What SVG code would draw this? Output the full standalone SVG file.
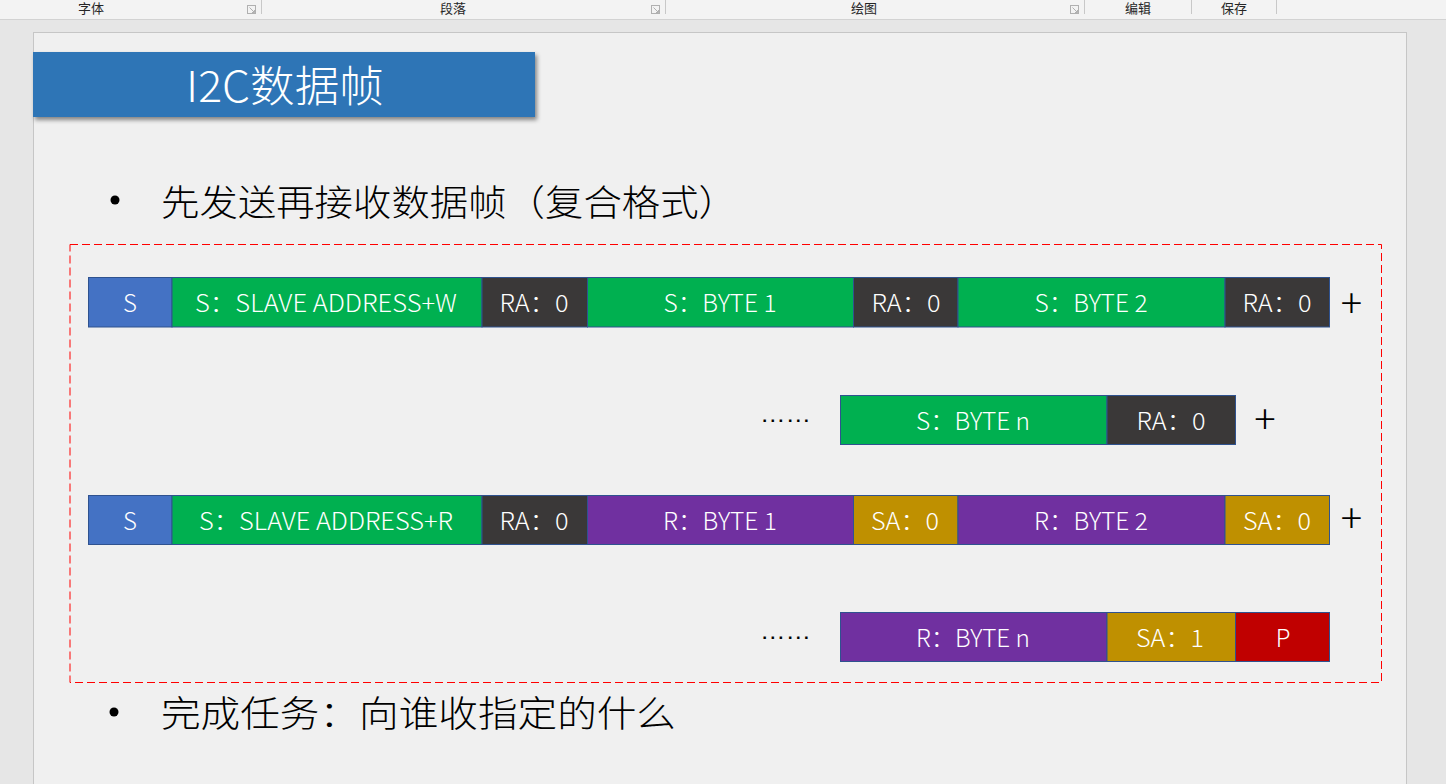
<svg xmlns="http://www.w3.org/2000/svg" width="1446" height="784" viewBox="0 0 1446 784">
<defs>
<style>
.tb{font-family:"Noto Sans CJK SC","Noto Sans",sans-serif;font-size:13px;fill:#262626;text-anchor:middle}
.seg{stroke:#2f528f;stroke-width:1}
.lbl{font-family:"Noto Sans CJK SC","Noto Sans",sans-serif;font-size:24px;font-weight:300;fill:#ffffff;text-anchor:middle}
.blt{font-family:"Noto Sans CJK SC",sans-serif;font-size:36px;font-weight:300;fill:#000000}
.plus{font-family:"Noto Sans CJK SC",sans-serif;font-size:40px;font-weight:300;fill:#000000;text-anchor:middle}
.dots{font-family:"Liberation Sans",sans-serif;font-size:24px;fill:#000000}
.sep{stroke:#c8c8c8;stroke-width:1}
.ico{fill:none;stroke:#b0b0b0;stroke-width:1}
</style>
<filter id="sh" x="-5%" y="-20%" width="112%" height="150%">
<feDropShadow dx="2" dy="3" stdDeviation="2" flood-color="#000" flood-opacity="0.45"/>
</filter>
</defs>
<rect x="0" y="0" width="1446" height="784" fill="#e6e6e6"/>
<g id="toolbar">
<rect x="0" y="0" width="1446" height="19" fill="#f3f3f3"/>
<line x1="0" y1="19.5" x2="1446" y2="19.5" stroke="#d2d2d2"/>
<text class="tb" x="91" y="13">字体</text>
<text class="tb" x="453" y="13">段落</text>
<text class="tb" x="864" y="13">绘图</text>
<text class="tb" x="1138" y="13">编辑</text>
<text class="tb" x="1234" y="13">保存</text>
<rect class="ico" x="247.5" y="5.5" width="8" height="8"/><path class="ico" d="M249.5 7.5 L254.5 12.5 M252 12.5 H254.5 V10"/>
<rect class="ico" x="651.5" y="5.5" width="8" height="8"/><path class="ico" d="M653.5 7.5 L658.5 12.5 M656 12.5 H658.5 V10"/>
<rect class="ico" x="1070.5" y="5.5" width="8" height="8"/><path class="ico" d="M1072.5 7.5 L1077.5 12.5 M1075 12.5 H1077.5 V10"/>
<line class="sep" x1="261.5" y1="0" x2="261.5" y2="14"/>
<line class="sep" x1="665.5" y1="0" x2="665.5" y2="14"/>
<line class="sep" x1="1084.5" y1="0" x2="1084.5" y2="14"/>
<line class="sep" x1="1191.5" y1="0" x2="1191.5" y2="14"/>
<line class="sep" x1="1276.5" y1="0" x2="1276.5" y2="14"/>
</g>
<rect x="33.5" y="32.5" width="1373" height="760" fill="#f0f0f0" stroke="#c6c6c6"/>
<g id="title">
<rect x="33" y="52" width="502" height="65" fill="#2e75b6" filter="url(#sh)"/>
<text x="285" y="102" font-family="Noto Sans CJK SC, sans-serif" font-size="43" font-weight="300" fill="#ffffff" text-anchor="middle" textLength="198" lengthAdjust="spacingAndGlyphs">I2C数据帧</text>
</g>
<g id="bullet1">
<circle cx="115" cy="200" r="4.5" fill="#000"/>
<text class="blt" x="161" y="216" textLength="576" lengthAdjust="spacingAndGlyphs">先发送再接收数据帧（复合格式）</text>
</g>
<g id="frame">
<rect x="70" y="244.5" width="1311.5" height="438" fill="none" stroke="#ff0000" stroke-width="1" stroke-dasharray="8,4"/>
</g>
<g id="row1">
<rect class="seg" x="88.5" y="277.5" width="83.5" height="49.5" fill="#4472c4"/>
<text class="lbl" x="130" y="312">S</text>
<rect class="seg" x="172" y="277.5" width="310" height="49.5" fill="#00b050"/>
<text class="lbl" x="326" y="312" textLength="262" lengthAdjust="spacingAndGlyphs">S：SLAVE ADDRESS+W</text>
<rect class="seg" x="482" y="277.5" width="105.5" height="49.5" fill="#3a3838"/>
<text class="lbl" x="534" y="312" textLength="69" lengthAdjust="spacingAndGlyphs">RA：0</text>
<rect class="seg" x="587.5" y="277.5" width="266" height="49.5" fill="#00b050"/>
<text class="lbl" x="720" y="312" textLength="113" lengthAdjust="spacingAndGlyphs">S：BYTE 1</text>
<rect class="seg" x="853.5" y="277.5" width="104.5" height="49.5" fill="#3a3838"/>
<text class="lbl" x="906" y="312" textLength="69" lengthAdjust="spacingAndGlyphs">RA：0</text>
<rect class="seg" x="958" y="277.5" width="267" height="49.5" fill="#00b050"/>
<text class="lbl" x="1091" y="312" textLength="113" lengthAdjust="spacingAndGlyphs">S：BYTE 2</text>
<rect class="seg" x="1225" y="277.5" width="104.5" height="49.5" fill="#3a3838"/>
<text class="lbl" x="1277" y="312" textLength="69" lengthAdjust="spacingAndGlyphs">RA：0</text>
<text class="plus" x="1351.5" y="318">+</text>
</g>
<g id="row2">
<text class="dots" x="760" y="421.5" textLength="51" lengthAdjust="spacingAndGlyphs">……</text>
<rect class="seg" x="840.5" y="395.5" width="266.5" height="49" fill="#00b050"/>
<text class="lbl" x="973" y="430" textLength="114" lengthAdjust="spacingAndGlyphs">S：BYTE n</text>
<rect class="seg" x="1107" y="395.5" width="128.5" height="49" fill="#3a3838"/>
<text class="lbl" x="1171" y="430" textLength="69" lengthAdjust="spacingAndGlyphs">RA：0</text>
<text class="plus" x="1265" y="433.5">+</text>
</g>
<g id="row3">
<rect class="seg" x="88.5" y="495.5" width="83.5" height="49" fill="#4472c4"/>
<text class="lbl" x="130" y="529.5">S</text>
<rect class="seg" x="172" y="495.5" width="310" height="49" fill="#00b050"/>
<text class="lbl" x="326" y="529.5" textLength="254" lengthAdjust="spacingAndGlyphs">S：SLAVE ADDRESS+R</text>
<rect class="seg" x="482" y="495.5" width="105.5" height="49" fill="#3a3838"/>
<text class="lbl" x="534" y="529.5" textLength="69" lengthAdjust="spacingAndGlyphs">RA：0</text>
<rect class="seg" x="587.5" y="495.5" width="266" height="49" fill="#7030a0"/>
<text class="lbl" x="720" y="529.5" textLength="114" lengthAdjust="spacingAndGlyphs">R：BYTE 1</text>
<rect class="seg" x="853.5" y="495.5" width="104.5" height="49" fill="#bf9000"/>
<text class="lbl" x="905" y="529.5" textLength="68" lengthAdjust="spacingAndGlyphs">SA：0</text>
<rect class="seg" x="958" y="495.5" width="267" height="49" fill="#7030a0"/>
<text class="lbl" x="1091" y="529.5" textLength="114" lengthAdjust="spacingAndGlyphs">R：BYTE 2</text>
<rect class="seg" x="1225" y="495.5" width="104.5" height="49" fill="#bf9000"/>
<text class="lbl" x="1277" y="529.5" textLength="68" lengthAdjust="spacingAndGlyphs">SA：0</text>
<text class="plus" x="1351.5" y="533">+</text>
</g>
<g id="row4">
<text class="dots" x="760" y="638.5" textLength="51" lengthAdjust="spacingAndGlyphs">……</text>
<rect class="seg" x="840.5" y="612.5" width="266.5" height="49" fill="#7030a0"/>
<text class="lbl" x="973" y="647" textLength="114" lengthAdjust="spacingAndGlyphs">R：BYTE n</text>
<rect class="seg" x="1107" y="612.5" width="128.5" height="49" fill="#bf9000"/>
<text class="lbl" x="1170" y="647" textLength="68" lengthAdjust="spacingAndGlyphs">SA：1</text>
<rect class="seg" x="1235.5" y="612.5" width="94" height="49" fill="#c00000"/>
<text class="lbl" x="1283" y="647">P</text>
</g>
<g id="bullet2">
<circle cx="114" cy="712" r="4.5" fill="#000"/>
<text class="blt" x="161" y="727" textLength="515" lengthAdjust="spacingAndGlyphs">完成任务：向谁收指定的什么</text>
</g>
</svg>
